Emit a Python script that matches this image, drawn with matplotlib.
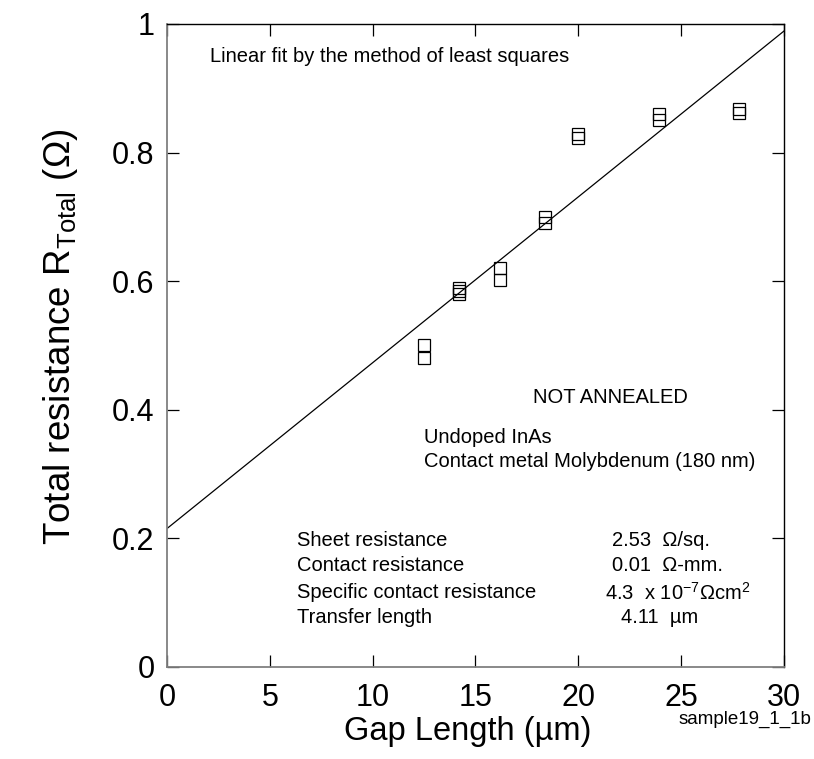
import matplotlib
matplotlib.use("Agg")
import matplotlib.pyplot as plt
import numpy as np

plt.rcParams["font.family"] = ["Liberation Sans", "DejaVu Sans"]
plt.rcParams["mathtext.fontset"] = "custom"
plt.rcParams["mathtext.rm"] = "Liberation Sans"
plt.rcParams["mathtext.it"] = "Liberation Sans:italic"

# measured points (two or three repeats per gap)
gap_um = [12.5, 12.5, 14.2, 14.2, 14.2, 16.2, 16.2, 18.4, 18.4,
          20.0, 20.0, 23.9, 23.9, 27.8, 27.8]
r_total = [0.500, 0.480, 0.590, 0.585, 0.580, 0.620, 0.601, 0.699, 0.691,
           0.829, 0.822, 0.860, 0.850, 0.868, 0.861]

# least squares line
fit_slope = 0.0258
fit_intercept = 0.215

x_ticks = [0, 5, 10, 15, 20, 25, 30]
y_ticks = [0, 0.2, 0.4, 0.6, 0.8, 1]
y_tick_labels = ["0", "0.2", "0.4", "0.6", "0.8", "1"]

param_names = ["Sheet resistance", "Contact resistance",
               "Specific contact resistance", "Transfer length"]
param_values = ["2.53  \u03a9/sq.", "0.01  \u03a9-mm.",
                "4.3  x 10$^{-7}$\u03a9cm$^{2}$", "4.11  \u00b5m"]


def main():
    fig = plt.figure(figsize=(8.14, 7.59), dpi=100)
    ax = fig.add_axes([0.2052, 0.1216, 0.7579, 0.8468])

    xs = np.array([0, 30])
    ax.plot(xs, fit_intercept + fit_slope * xs, color="black", lw=0.9)
    ax.plot(gap_um, r_total, linestyle="none", marker="s", markersize=8.5,
            markerfacecolor="none", markeredgecolor="black", markeredgewidth=0.9)

    ax.set_xlim(0, 30)
    ax.set_ylim(0, 1)
    ax.set_xticks(x_ticks)
    ax.set_yticks(y_ticks)
    ax.set_yticklabels(y_tick_labels)
    ax.tick_params(direction="in", length=8.5, width=0.9, labelsize=22,
                   pad=9, top=True, right=True)
    ax.tick_params(axis="x", pad=12)

    for side in ["left", "bottom"]:
        ax.spines[side].set_color("#808080")
        ax.spines[side].set_linewidth(1.3)
    for side in ["top", "right"]:
        ax.spines[side].set_color("black")
        ax.spines[side].set_linewidth(1.0)

    fs = 14.5
    ax.text(0.07, 0.950, "Linear fit by the method of least squares",
            transform=ax.transAxes, fontsize=fs, va="center")
    ax.text(0.593, 0.419, "NOT ANNEALED", transform=ax.transAxes,
            fontsize=fs, va="center")
    ax.text(0.4165, 0.356, "Undoped InAs", transform=ax.transAxes,
            fontsize=fs, va="center")
    ax.text(0.4165, 0.320, "Contact metal Molybdenum (180 nm)",
            transform=ax.transAxes, fontsize=fs, va="center")

    name_y = [0.197, 0.158, 0.115, 0.077]
    value_x = [0.721, 0.721, 0.710, 0.736]
    for name, value, yy, vx in zip(param_names, param_values, name_y, value_x):
        ax.text(0.2107, yy, name, transform=ax.transAxes, fontsize=fs, va="center")
        ax.text(vx, yy, value, transform=ax.transAxes, fontsize=fs, va="center")

    fig.text(0.074, 0.556, "Total resistance R$_{\\mathregular{Total}}$ (\u03a9)",
             rotation=90, fontsize=26.5, ha="center", va="center")
    fig.text(0.575, 0.0356, "Gap Length (\u00b5m)", fontsize=23.5,
             ha="center", va="center")
    fig.text(0.997, 0.052, "sample19_1_1b", fontsize=13.5,
             ha="right", va="center")

    fig.savefig("out.png", dpi=100)


if __name__ == "__main__":
    main()
